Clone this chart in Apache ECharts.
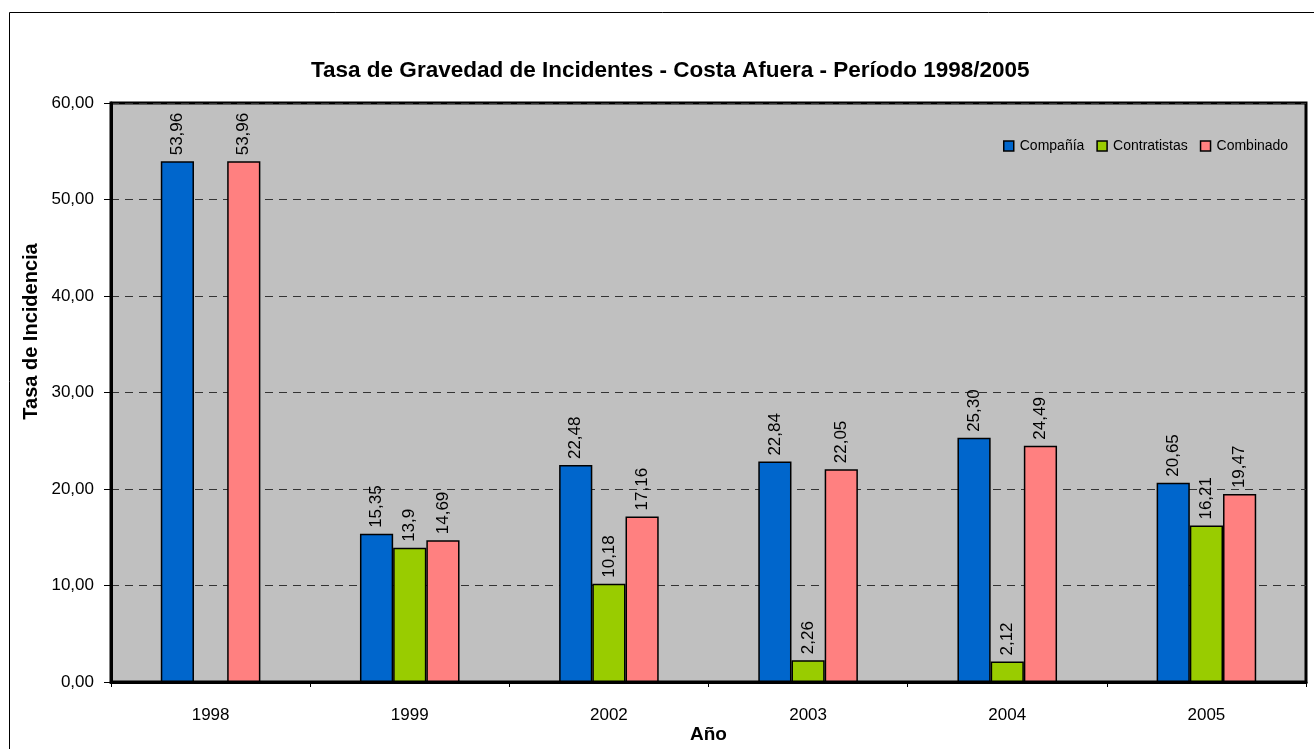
<!DOCTYPE html>
<html>
<head>
<meta charset="utf-8">
<script src="https://cdn.jsdelivr.net/npm/echarts@6/dist/echarts.min.js"></script>
<style>
  html, body { margin: 0; padding: 0; background: #fff; }
  #chart { width: 1314px; height: 749px; }
</style>
</head>
<body>
<div id="chart"></div>
<script>
// años
var years = ['1998', '1999', '2002', '2003', '2004', '2005']
// valores como aparecen en las etiquetas
var companiaTxt = ['53,96', '15,35', '22,48', '22,84', '25,30', '20,65']
var contratistasTxt = ['', '13,9', '10,18', '2,26', '2,12', '16,21']
var combinadoTxt = ['53,96', '14,69', '17,16', '22,05', '24,49', '19,47']
var yTicks = [0, 10, 20, 30, 40, 50, 60]

var FONT = "'Liberation Sans Narrow', 'Arial Narrow', 'Liberation Sans', sans-serif"

function toNum (arr) {
  return arr.map(function (t) { return t === '' ? null : parseFloat(t.replace(',', '.')) })
}

function makeSeries (name, txt, color) {
  return {
    name: name,
    type: 'bar',
    barGap: '0%',
    barCategoryGap: '50%',
    data: toNum(txt),
    itemStyle: { color: color, borderColor: '#000', borderWidth: 1.5 },
    label: {
      show: true,
      position: 'top',
      rotate: 90,
      align: 'left',
      verticalAlign: 'middle',
      distance: 6,
      fontFamily: FONT,
      fontSize: 17,
      color: '#000',
      formatter: function (p) { return txt[p.dataIndex] }
    }
  }
}

var chart = echarts.init(document.getElementById('chart'))
chart.setOption({
  animation: false,
  textStyle: { fontFamily: FONT },
  graphic: [{
    type: 'rect',
    shape: { x: 9.5, y: 12.5, width: 1320, height: 760 },
    style: { fill: 'none', stroke: '#000', lineWidth: 1 },
    z: -1
  }],
  title: {
    text: 'Tasa de Gravedad de Incidentes - Costa Afuera - Período 1998/2005',
    left: 306,
    top: 54,
    textStyle: { fontFamily: FONT, fontSize: 22.5, fontWeight: 'bold', color: '#000' }
  },
  legend: {
    left: 998,
    top: 134,
    itemWidth: 10,
    itemHeight: 10,
    itemGap: 12,
    icon: 'rect',
    textStyle: { fontFamily: FONT, fontSize: 14, color: '#000', padding: [0, 0, 0, 1] },
    itemStyle: { borderColor: '#000', borderWidth: 1.5 }
  },
  grid: {
    show: true,
    left: 111,
    right: 8,
    top: 103,
    bottom: 67,
    outerBoundsMode: 'none',
    containLabel: false,
    backgroundColor: '#C0C0C0',
    borderColor: '#000',
    borderWidth: 3
  },
  xAxis: {
    type: 'category',
    data: years,
    name: 'Año',
    nameLocation: 'middle',
    nameGap: 43,
    nameMoveOverlap: false,
    nameTextStyle: { fontFamily: FONT, fontSize: 19, fontWeight: 'bold', color: '#000' },
    axisLine: { lineStyle: { color: '#000', width: 3 } },
    axisTick: { show: true, length: 5, lineStyle: { color: '#000', width: 1 } },
    axisLabel: { fontFamily: FONT, fontSize: 17, color: '#000', margin: 25 }
  },
  yAxis: {
    type: 'value',
    min: yTicks[0],
    max: yTicks[yTicks.length - 1],
    interval: 10,
    name: 'Tasa de Incidencia',
    nameLocation: 'middle',
    nameGap: 70,
    nameMoveOverlap: false,
    nameTextStyle: { fontFamily: FONT, fontSize: 20, fontWeight: 'bold', color: '#000', padding: [0, 0, 0, 122] },
    axisLine: { show: true, lineStyle: { color: '#000', width: 3 } },
    axisTick: { show: true, length: 7, lineStyle: { color: '#000', width: 1 } },
    axisLabel: {
      fontFamily: FONT,
      fontSize: 17,
      color: '#000',
      margin: 17,
      formatter: function (v) { return v.toFixed(2).replace('.', ',') }
    },
    splitLine: { show: true, lineStyle: { color: '#333', type: [8, 6], width: 1 } }
  },
  series: [
    makeSeries('Compañía', companiaTxt, '#0066CC'),
    makeSeries('Contratistas', contratistasTxt, '#99CC00'),
    makeSeries('Combinado', combinadoTxt, '#FF8080')
  ]
})
</script>
</body>
</html>
